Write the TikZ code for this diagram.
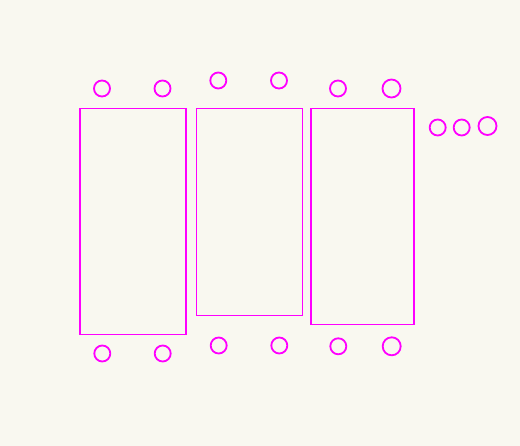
\documentclass[tikz,border=0pt]{standalone}
\definecolor{bg}{HTML}{F9F8F0}
\definecolor{mag}{HTML}{FF00FF}
\tikzset{
  tbl/.style={draw=mag, line width=1.8pt, rectangle, inner sep=0pt},
  seat/.style={draw=mag, line width=1.8pt, circle, inner sep=0pt, minimum size=16pt},
  bigseat/.style={seat, minimum size=18pt}
}
\begin{document}
\begin{tikzpicture}[x=1pt,y=-1pt]
\fill[bg] (0,0) rectangle (520,446);
\useasboundingbox (0,0) rectangle (520,446);
% tables
\node[tbl, minimum width=106pt, minimum height=226pt] (t1) at (133,221.5) {};
\node[tbl, minimum width=106pt, minimum height=207pt] (t2) at (249.5,212) {};
\node[tbl, minimum width=103pt, minimum height=216pt] (t3) at (362.5,216.5) {};
% top seats
\node[seat] (s1) at (102,88.5) {};
\node[seat] (s2) at (162.5,88.5) {};
\node[seat] (s3) at (218.3,80.5) {};
\node[seat] (s4) at (279,80.5) {};
\node[seat] (s5) at (338,88.5) {};
\node[bigseat] (s6) at (391.5,88.5) {};
% bottom seats
\node[seat] (b1) at (102.3,353.5) {};
\node[seat] (b2) at (162.7,353.5) {};
\node[seat] (b3) at (218.7,345.5) {};
\node[seat] (b4) at (279.3,345.5) {};
\node[seat] (b5) at (338.3,346.3) {};
\node[bigseat] (b6) at (391.7,346.3) {};
% right seats
\node[seat] (r1) at (437.7,127.5) {};
\node[seat] (r2) at (461.7,127.5) {};
\node[bigseat] (r3) at (487.5,126) {};
\end{tikzpicture}
\end{document}
